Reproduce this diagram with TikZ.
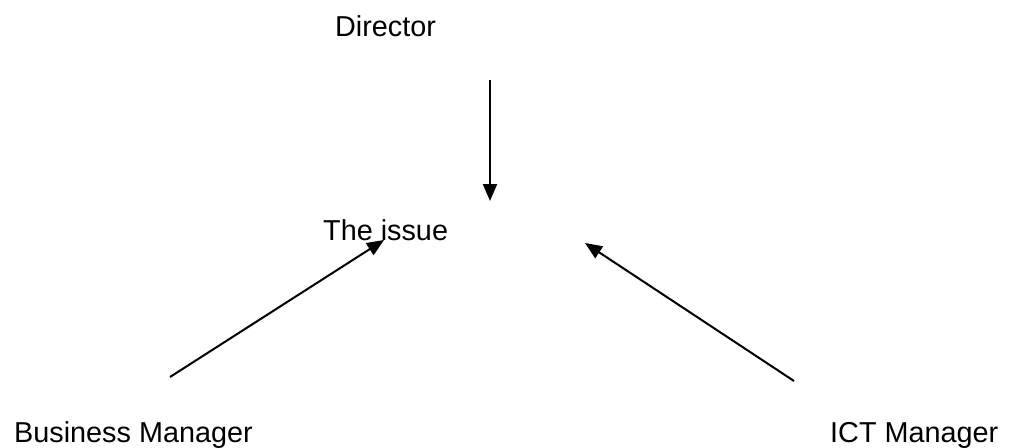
\documentclass[tikz,border=0pt]{standalone}
\usepackage{fontspec}
\setmainfont{Liberation Sans}
\usetikzlibrary{arrows.meta}
\begin{document}
\begin{tikzpicture}[x=1pt,y=-1pt,
  lbl/.style={anchor=base west,inner sep=0pt,font=\fontsize{28.8}{34}\selectfont},
  link/.style={line width=2pt,-{Triangle[length=17pt,width=14pt]}}]
\useasboundingbox (0,0) rectangle (1009,447);
\node[lbl] (dir) at (335,36) {Director};
\node[lbl] (iss) at (323,240) {The issue};
\node[lbl] (bm) at (14,442) {Business Manager};
\node[lbl] (ict) at (830,442) {ICT Manager};
\coordinate (d1) at (490,80);
\coordinate (d2) at (490,201);
\coordinate (b1) at (170,377);
\coordinate (b2) at (384,240);
\coordinate (c1) at (794,381);
\coordinate (c2) at (585,243);
\draw[link] (d1) -- (d2);
\draw[link] (b1) -- (b2);
\draw[link] (c1) -- (c2);
\end{tikzpicture}
\end{document}
